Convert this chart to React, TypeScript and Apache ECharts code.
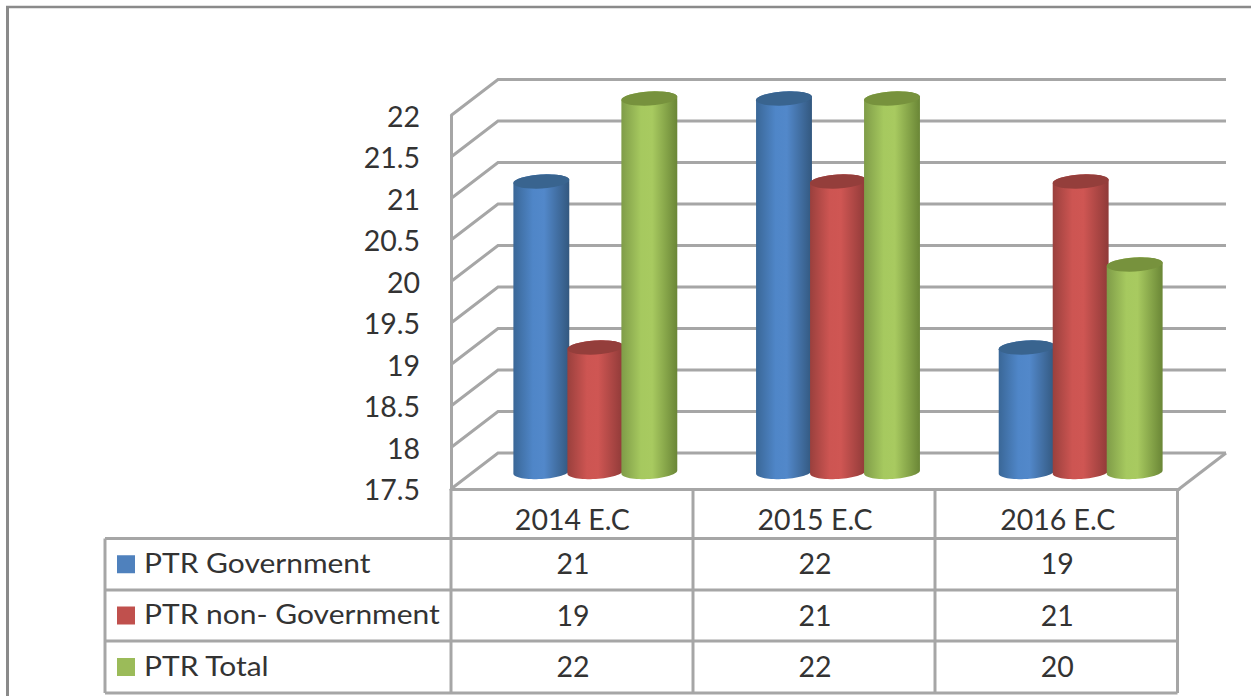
import React, { useEffect, useRef } from "react";
import * as echarts from "echarts";

const categories = ["2014 E.C", "2015 E.C", "2016 E.C"];
const seriesNames = ["PTR Government", "PTR non- Government", "PTR Total"];
const ptrGovernment = [21, 22, 19];
const ptrNonGovernment = [19, 21, 21];
const ptrTotal = [22, 22, 20];
const yTicks = [17.5, 18, 18.5, 19, 19.5, 20, 20.5, 21, 21.5, 22];
const seriesValues = [ptrGovernment, ptrNonGovernment, ptrTotal];

const FONT = "Lato";
const TEXT = "#333333";
const LINE = "#a6a6a6";
const swatches = ["#4f81bd", "#c0504d", "#9bbb59"];
const bodyStops = [
  ["#3a6797", "#4f86c8", "#5288ca", "#33587f"],
  ["#9a403d", "#cd5552", "#cf5653", "#8f3a38"],
  ["#7f9c48", "#a6c95f", "#a8ca60", "#6a8636"],
];
const capColors = ["#39648f", "#943e3b", "#77923d"];

const GRID = { left: 451, top: 115.5, width: 728, height: 373.5 };
const DEPTH = { x: 47, y: -36 };
const COL_X = [451, 693, 935, 1177.5];
const ROW_Y = [538.5, 590, 641, 693];
const TABLE_LEFT = 105;

function ellipsePoints(cx: number, cy: number, rx: number, ry: number, from: number, to: number) {
  const tilt = (-3.5 * Math.PI) / 180;
  const pts: number[][] = [];
  for (let i = 0; i <= 32; i++) {
    const t = from + ((to - from) * i) / 32;
    const ex = rx * Math.cos(t);
    const ey = ry * Math.sin(t);
    pts.push([cx + ex * Math.cos(tilt) - ey * Math.sin(tilt), cy + ex * Math.sin(tilt) + ey * Math.cos(tilt)]);
  }
  return pts;
}

function cylinderRenderer(seriesIndex: number) {
  return (_params: any, api: any) => {
    const cat = api.value(0);
    const val = api.value(1);
    const top = api.coord([cat, val]);
    const base = api.coord([cat, yTicks[0]]);
    const step = 54;
    const rx = 28;
    const ry = 7;
    const cx = top[0] + 23 + (seriesIndex - 1) * step;
    const topY = top[1] - 17;
    const baseY = base[1] - 17;
    const bodyPts = [
      ...ellipsePoints(cx, topY, rx, ry, Math.PI, 2 * Math.PI),
      ...ellipsePoints(cx, baseY, rx, ry, 0, Math.PI),
    ];
    const s = bodyStops[seriesIndex];
    return {
      type: "group",
      children: [
        {
          type: "polygon",
          shape: { points: bodyPts },
          style: {
            fill: new echarts.graphic.LinearGradient(0, 0, 1, 0, [
              { offset: 0, color: s[0] },
              { offset: 0.35, color: s[1] },
              { offset: 0.55, color: s[2] },
              { offset: 1, color: s[3] },
            ]),
          },
        },
        {
          type: "polygon",
          shape: { points: ellipsePoints(cx, topY, rx, ry, 0, 2 * Math.PI) },
          style: { fill: capColors[seriesIndex] },
        },
      ],
    };
  };
}

function wallRenderer(params: any, api: any) {
  const cs = params.coordSys;
  const children: any[] = [];
  yTicks.forEach((v) => {
    const y = api.coord([0, v])[1];
    children.push({
      type: "polyline",
      shape: {
        points: [
          [cs.x, y],
          [cs.x + DEPTH.x, y + DEPTH.y],
          [cs.x + cs.width + DEPTH.x, y + DEPTH.y],
        ],
      },
      style: { stroke: LINE, lineWidth: 3, fill: "none" },
    });
  });
  const fy = api.coord([0, yTicks[0]])[1];
  children.push({
    type: "line",
    shape: { x1: cs.x + cs.width, y1: fy, x2: cs.x + cs.width + DEPTH.x, y2: fy + DEPTH.y },
    style: { stroke: LINE, lineWidth: 3 },
  });
  return { type: "group", children };
}

function tableGraphics() {
  const els: any[] = [];
  const line = (x1: number, y1: number, x2: number, y2: number) =>
    els.push({
      type: "line",
      shape: { x1, y1, x2, y2 },
      style: { stroke: LINE, lineWidth: 3 },
      z: 5,
    });
  ROW_Y.forEach((y) => line(TABLE_LEFT, y, COL_X[3], y));
  line(TABLE_LEFT, ROW_Y[0], TABLE_LEFT, ROW_Y[3]);
  COL_X.forEach((x) => line(x, GRID.top + GRID.height, x, ROW_Y[3]));
  seriesNames.forEach((name, r) => {
    const cy = (ROW_Y[r] + ROW_Y[r + 1]) / 2;
    els.push({
      type: "rect",
      shape: { x: 117, y: cy - 9, width: 18, height: 18 },
      style: { fill: swatches[r] },
      z: 6,
    });
    els.push({
      type: "text",
      x: 144,
      y: cy - 2,
      scaleX: 1.09,
      style: { text: name, font: `27.5px ${FONT}`, fill: TEXT, textAlign: "left", textVerticalAlign: "middle" },
      z: 6,
    });
    seriesValues[r].forEach((v, c) => {
      els.push({
        type: "text",
        x: (COL_X[c] + COL_X[c + 1]) / 2 + 1,
        y: cy - 1,
        style: { text: String(v), font: `28.5px ${FONT}`, fill: TEXT, textAlign: "center", textVerticalAlign: "middle" },
        z: 6,
      });
    });
  });
  els.push({ type: "line", shape: { x1: 7.5, y1: 7, x2: 7.5, y2: 696 }, style: { stroke: "#8a8a8a", lineWidth: 3 }, z: 6 });
  els.push({ type: "line", shape: { x1: 6, y1: 7, x2: 1251, y2: 7 }, style: { stroke: "#8a8a8a", lineWidth: 2.5 }, z: 6 });
  return els;
}

export default function App() {
  const ref = useRef<HTMLDivElement>(null);
  useEffect(() => {
    const chart = echarts.init(ref.current!, null, { renderer: "svg" });
    chart.setOption({
      animation: false,
      backgroundColor: "#ffffff",
      grid: { ...GRID, containLabel: false },
      xAxis: {
        type: "category",
        data: categories,
        axisLine: { show: true, lineStyle: { color: LINE, width: 3 } },
        axisTick: { show: false },
        splitLine: { show: false },
        axisLabel: { color: TEXT, fontFamily: FONT, fontSize: 28.5, margin: 15 },
      },
      yAxis: {
        type: "value",
        min: 17.5,
        max: 22,
        interval: 0.5,
        axisLine: { show: true, lineStyle: { color: LINE, width: 3 } },
        axisTick: { show: false },
        splitLine: { show: false },
        axisLabel: { color: TEXT, fontFamily: FONT, fontSize: 28.5, margin: 31 },
      },
      graphic: tableGraphics(),
      series: [
        {
          type: "custom",
          name: "walls",
          silent: true,
          z: 1,
          renderItem: wallRenderer,
          data: [[0, yTicks[0]]],
          encode: { x: 0, y: 1 },
        },
        ...seriesNames.map((name, i) => ({
          type: "custom",
          name,
          z: 2 + i,
          renderItem: cylinderRenderer(i),
          data: seriesValues[i].map((v, c) => [c, v]),
          encode: { x: 0, y: 1 },
        })),
      ],
    });
    return () => chart.dispose();
  }, []);
  return <div ref={ref} style={{ position: "absolute", left: 0, top: 0, width: 1251, height: 696 }} />;
}
